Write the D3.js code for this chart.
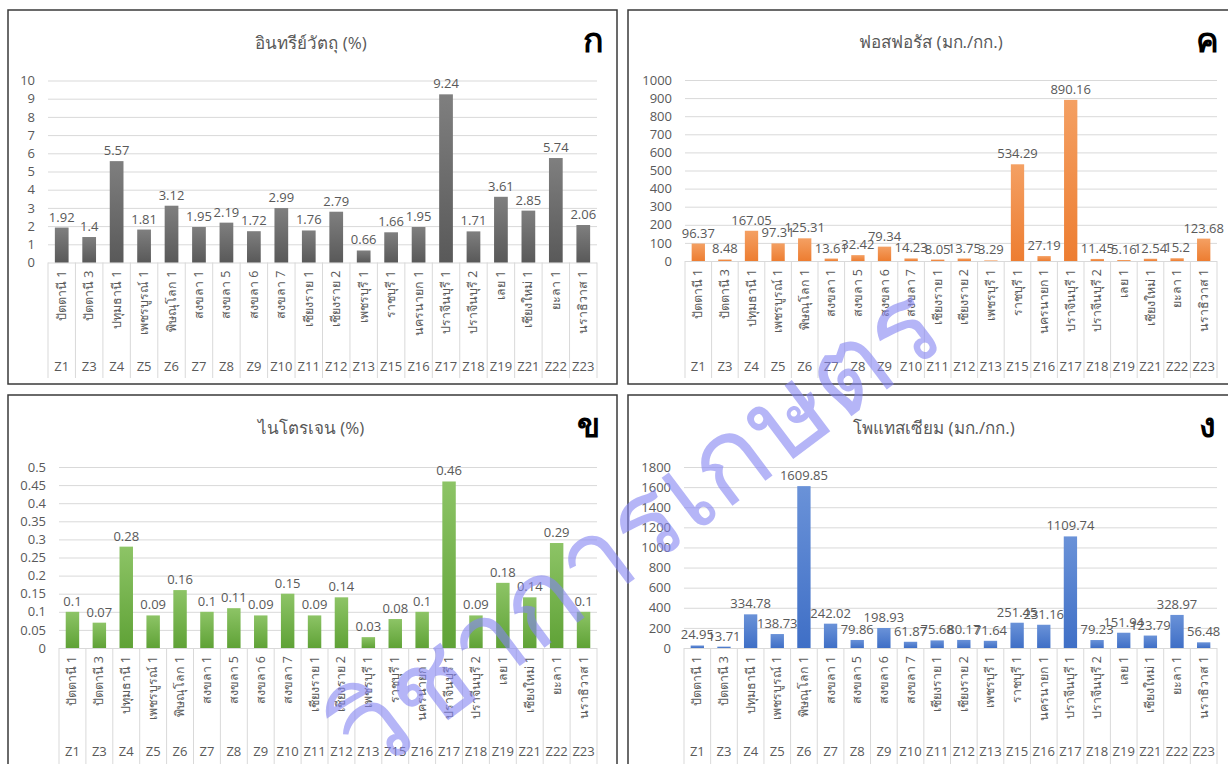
<!DOCTYPE html>
<html lang="th">
<head>
<meta charset="UTF-8">
<title>Soil nutrients</title>
<script src="https://d3js.org/d3.v7.min.js"></script>
<style>
    body { margin: 0; background: #fff; font-family: "Open Sans", "Noto Sans", sans-serif; }
    svg { display: block; }
</style>
</head>
<body>
<div id="chart"></div>
<script>
    // ---- data ----
    const zones = ["Z1", "Z3", "Z4", "Z5", "Z6", "Z7", "Z8", "Z9", "Z10", "Z11", "Z12", "Z13", "Z15", "Z16", "Z17", "Z18", "Z19", "Z21", "Z22", "Z23"];
    const sites = ["ปัตตานี 1", "ปัตตานี 3", "ปทุมธานี 1", "เพชรบูรณ์ 1", "พิษณุโลก 1", "สงขลา 1", "สงขลา 5", "สงขลา 6", "สงขลา 7", "เชียงราย 1", "เชียงราย 2", "เพชรบุรี 1", "ราชบุรี 1", "นครนายก 1", "ปราจีนบุรี 1", "ปราจีนบุรี 2", "เลย 1", "เชียงใหม่ 1", "ยะลา 1", "นราธิวาส 1"];

    const organicMatter = [1.92, 1.4, 5.57, 1.81, 3.12, 1.95, 2.19, 1.72, 2.99, 1.76, 2.79, 0.66, 1.66, 1.95, 9.24, 1.71, 3.61, 2.85, 5.74, 2.06];
    const nitrogen = [0.1, 0.07, 0.28, 0.09, 0.16, 0.1, 0.11, 0.09, 0.15, 0.09, 0.14, 0.03, 0.08, 0.1, 0.46, 0.09, 0.18, 0.14, 0.29, 0.1];
    const phosphorus = [96.37, 8.48, 167.05, 97.31, 125.31, 13.61, 32.42, 79.34, 14.23, 8.05, 13.75, 3.29, 534.29, 27.19, 890.16, 11.45, 5.16, 12.54, 15.2, 123.68];
    const potassium = [24.95, 13.71, 334.78, 138.73, 1609.85, 242.02, 79.86, 198.93, 61.87, 75.68, 80.17, 71.64, 251.45, 231.16, 1109.74, 79.23, 151.94, 123.79, 328.97, 56.48];

    const omTicks = [0, 1, 2, 3, 4, 5, 6, 7, 8, 9, 10];
    const nTicks = [0, 0.05, 0.1, 0.15, 0.2, 0.25, 0.3, 0.35, 0.4, 0.45, 0.5];
    const pTicks = [0, 100, 200, 300, 400, 500, 600, 700, 800, 900, 1000];
    const kTicks = [0, 200, 400, 600, 800, 1000, 1200, 1400, 1600, 1800];

    const W = 1228, H = 764;
    const svg = d3.select("#chart").append("svg")
        .attr("width", W)
        .attr("height", H);
    const defs = svg.append("defs");

    const panels = [
        {id: "om", title: "อินทรีย์วัตถุ (%)", mark: "ก", values: organicMatter, ticks: omTicks, color: "#595959", light: "#7f7f7f",
            box: [8, 10, 609, 374], plot: [48, 80.5, 597, 262.5], titleX: 311, titleY: 49, markX: 593, markY: 52, bottom: 378, zY: 371},
        {id: "p", title: "ฟอสฟอรัส (มก./กก.)", mark: "ค", values: phosphorus, ticks: pTicks, color: "#ed7d31", light: "#f4a063",
            box: [628, 10, 612, 374], plot: [685, 80, 1217, 261], titleX: 931, titleY: 48, markX: 1207, markY: 52, bottom: 378, zY: 371},
        {id: "n", title: "ไนโตรเจน (%)", mark: "ข", values: nitrogen, ticks: nTicks, color: "#5fa236", light: "#8dc466",
            box: [8, 395, 609, 380], plot: [59, 467, 597, 648], titleX: 311, titleY: 434, markX: 588, markY: 437, bottom: 770, zY: 756},
        {id: "k", title: "โพแทสเซียม (มก./กก.)", mark: "ง", values: potassium, ticks: kTicks, color: "#3f6fc6", light: "#6a92d8",
            box: [628, 395, 612, 380], plot: [684, 467, 1217, 648], titleX: 934, titleY: 434, markX: 1207, markY: 437, bottom: 770, zY: 756}
    ];

    panels.forEach(p => {
        const g = svg.append("g");
        const [x0, y0, x1, y1] = p.plot;

        // gradient fill like the office-style bars
        const grad = defs.append("linearGradient")
            .attr("id", "grad-" + p.id)
            .attr("x1", 0).attr("y1", 0).attr("x2", 0).attr("y2", 1);
        grad.append("stop").attr("offset", "0%").attr("stop-color", p.light);
        grad.append("stop").attr("offset", "100%").attr("stop-color", p.color);

        g.append("rect")
            .attr("x", p.box[0]).attr("y", p.box[1])
            .attr("width", p.box[2]).attr("height", p.box[3])
            .attr("fill", "#fff")
            .attr("stroke", "#3a3a3a")
            .attr("stroke-width", 1.5);

        const x = d3.scaleBand()
            .domain(zones)
            .range([x0, x1])
            .paddingInner(0.5)
            .paddingOuter(0.25);

        const y = d3.scaleLinear()
            .domain([0, d3.max(p.ticks)])
            .range([y1, y0]);

        // gridlines + y labels
        const yAxis = g.append("g")
            .attr("transform", `translate(${x0},0)`)
            .call(d3.axisLeft(y).tickValues(p.ticks).tickSize(-(x1 - x0)).tickPadding(13).tickFormat(d3.format("")));
        yAxis.select(".domain").remove();
        yAxis.selectAll(".tick line").attr("stroke", "#d9d9d9");
        yAxis.selectAll(".tick text")
            .attr("fill", "#595959")
            .style("font-size", "13px")
            .style("font-family", "'Open Sans', sans-serif");

        // category dividers
        const edges = zones.map(z => x(z) - x.step() * x.paddingInner() / 2);
        edges.push(x1);
        g.selectAll(".div")
            .data(edges)
            .join("line")
            .attr("x1", d => d).attr("x2", d => d)
            .attr("y1", y1).attr("y2", p.bottom)
            .attr("stroke", "#d9d9d9");

        // bars
        g.selectAll(".bar")
            .data(p.values)
            .join("rect")
            .attr("x", (d, i) => x(zones[i]))
            .attr("y", d => y(d))
            .attr("width", x.bandwidth())
            .attr("height", d => y(0) - y(d))
            .attr("fill", `url(#grad-${p.id})`);

        // value labels
        g.selectAll(".val")
            .data(p.values)
            .join("text")
            .attr("x", (d, i) => x(zones[i]) + x.bandwidth() / 2)
            .attr("y", d => y(d) - 6)
            .attr("text-anchor", "middle")
            .attr("fill", "#595959")
            .style("font-size", "13px")
            .text(d => d);

        // site names, rotated
        g.selectAll(".site")
            .data(sites)
            .join("text")
            .attr("transform", (d, i) => `translate(${x(zones[i]) + x.bandwidth() / 2 + 4},${y1 + 8}) rotate(-90)`)
            .attr("text-anchor", "end")
            .attr("fill", "#595959")
            .style("font-size", "12.5px")
            .text(d => d);

        // zone labels
        g.selectAll(".zone")
            .data(zones)
            .join("text")
            .attr("x", z => x(z) + x.bandwidth() / 2)
            .attr("y", p.zY)
            .attr("text-anchor", "middle")
            .attr("fill", "#595959")
            .style("font-size", "13px")
            .text(z => z);

        g.append("text")
            .attr("x", p.titleX).attr("y", p.titleY)
            .attr("text-anchor", "middle")
            .attr("fill", "#595959")
            .style("font-size", "17px")
            .text(p.title);

        g.append("text")
            .attr("x", p.markX).attr("y", p.markY)
            .attr("text-anchor", "middle")
            .attr("fill", "#000")
            .style("font-size", "34px")
            .style("font-weight", "bold")
            .text(p.mark);
    });

    // watermark across the figure
    svg.append("text")
        .attr("transform", "translate(660,560) rotate(-37)")
        .attr("text-anchor", "middle")
        .attr("fill", "#8585f2")
        .attr("opacity", 0.6)
        .style("font-size", "115px")
        .style("font-weight", "300")
        .style("pointer-events", "none")
        .text("วิชาการเกษตร");
</script>
</body>
</html>
